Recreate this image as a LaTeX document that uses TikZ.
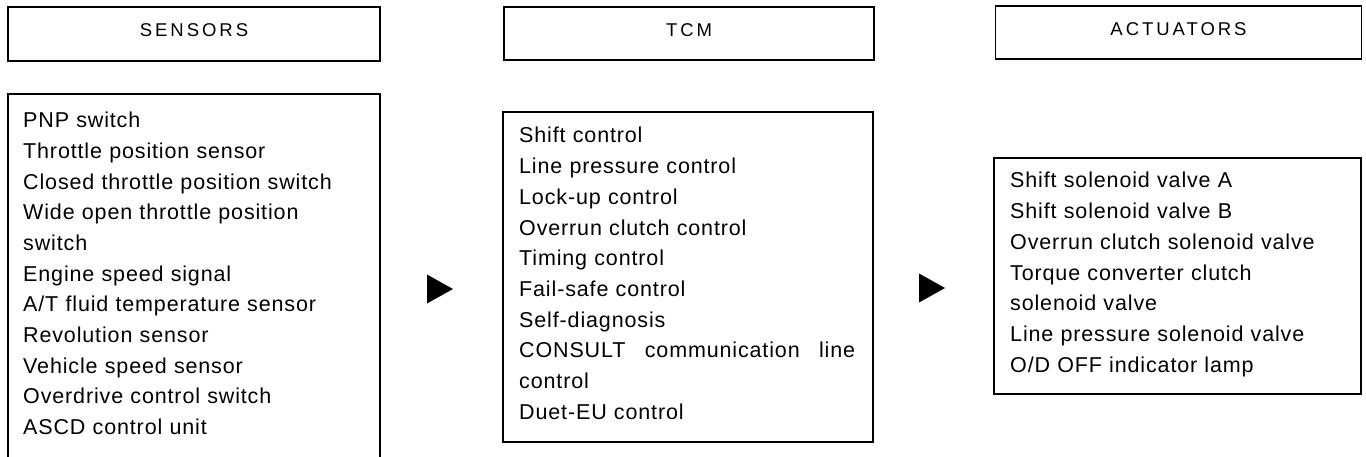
\documentclass[tikz,border=0pt]{standalone}
\usepackage{fontspec}
\setmainfont{Liberation Sans}
\tikzset{
  headbox/.style={draw,line width=1.8pt,inner sep=0pt,text height=13.2pt,text depth=7.2pt,
    font=\fontsize{18.5}{21}\selectfont\addfontfeature{LetterSpace=16}},
  listbox/.style={draw,line width=1.8pt,inner sep=0pt},
  listtext/.style={anchor=base west,inner sep=0pt,text width=350pt,align=left,
    font=\fontsize{21.5}{30.7}\selectfont\addfontfeature{LetterSpace=4}},
}
\begin{document}
\begin{tikzpicture}[x=1pt,y=-1pt]
  \useasboundingbox (0,0) rectangle (1366,457);
  \clip (0,0) rectangle (1366,457);

  % headings
  \node[headbox,minimum width=372pt,minimum height=54pt] (senshead) at (194,34) {SENSORS};
  \node[headbox,minimum width=370pt,minimum height=53pt] (tcmhead) at (689,33.5) {TCM};
  \node[headbox,minimum width=366pt,minimum height=53pt] (acthead) at (1178.5,32.5) {ACTUATORS};

  % sensors
  \node[listbox,anchor=north,minimum width=372pt,minimum height=400pt] (sensbox) at (194,93) {};
  \node[listtext] (senslist) at (23,127.7) {PNP switch\\
    Throttle position sensor\\
    Closed throttle position switch\\
    Wide open throttle position\\
    switch\\
    Engine speed signal\\
    A/T fluid temperature sensor\\
    Revolution sensor\\
    Vehicle speed sensor\\
    Overdrive control switch\\
    ASCD control unit};

  % tcm
  \node[listbox,minimum width=370pt,minimum height=330pt] (tcmbox) at (688,277) {};
  \node[listtext] (tcmlist) at (519,143) {Shift control\\
    Line pressure control\\
    Lock-up control\\
    Overrun clutch control\\
    Timing control\\
    Fail-safe control\\
    Self-diagnosis\\
    \makebox[336pt][s]{CONSULT\hfill communication\hfill line}\\
    control\\
    Duet-EU control};

  % actuators
  \node[listbox,minimum width=367pt,minimum height=236pt] (actbox) at (1177.5,276) {};
  \node[listtext] (actlist) at (1010,188) {Shift solenoid valve A\\
    Shift solenoid valve B\\
    Overrun clutch solenoid valve\\
    Torque converter clutch\\
    solenoid valve\\
    Line pressure solenoid valve\\
    O/D OFF indicator lamp};

  % flow
  \coordinate (tipA) at (453,289);
  \fill (tipA) -- ++(-26,-14.5) -- ++(0,29) -- cycle;
  \coordinate (tipB) at (945,288);
  \fill (tipB) -- ++(-26,-14.5) -- ++(0,29) -- cycle;

\end{tikzpicture}
\end{document}
